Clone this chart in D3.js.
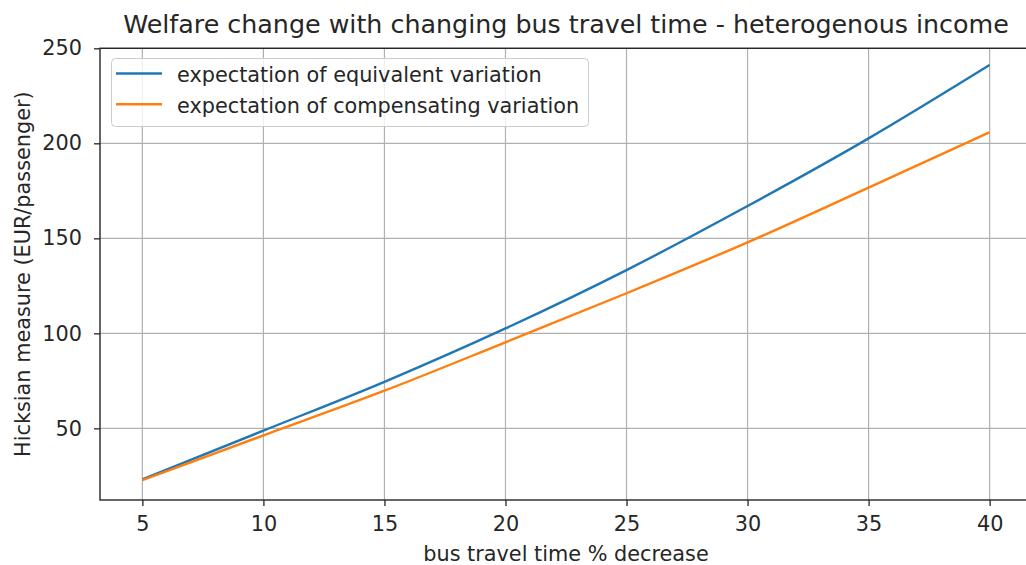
<!DOCTYPE html>
<html><head><meta charset="utf-8">
<script src="https://cdn.jsdelivr.net/npm/d3@7"></script>
<style>body{margin:0;background:#fff;} svg{display:block;} text{font-family:"DejaVu Sans",sans-serif;fill:#262626;}</style>
</head><body>
<script>
const xValues = [5, 10, 15, 20, 25, 30, 35, 40];
const equivalentVariation = [23.2, 48.8, 74.5, 102.6, 133.3, 167.0, 202.6, 241.2];
const compensatingVariation = [22.8, 46.3, 69.8, 95.3, 121.1, 147.9, 176.7, 205.8];
const xTicks = [5, 10, 15, 20, 25, 30, 35, 40];
const yTicks = [50, 100, 150, 200, 250];
const seriesNames = ["expectation of equivalent variation", "expectation of compensating variation"];
const colors = ["#1f77b4", "#ff7f0e"];

const W = 1026, H = 565;
const m = {left: 100, right: 1032, top: 48.3, bottom: 500};
const svg = d3.select("body").append("svg").attr("width", W).attr("height", H);

const x = d3.scaleLinear().domain([3.25, 41.75]).range([m.left, m.right]);
const y = d3.scaleLinear().domain([12.3, 250]).range([m.bottom, m.top]);

// grid
svg.append("g").selectAll("line").data(xTicks).join("line")
  .attr("x1", d => x(d)).attr("x2", d => x(d)).attr("y1", m.top).attr("y2", m.bottom)
  .attr("stroke", "#b0b0b0").attr("stroke-width", 1.2);
svg.append("g").selectAll("line").data(yTicks).join("line")
  .attr("y1", d => y(d)).attr("y2", d => y(d)).attr("x1", m.left).attr("x2", m.right)
  .attr("stroke", "#b0b0b0").attr("stroke-width", 1.2);

// lines
const series = [equivalentVariation, compensatingVariation];
const line = d3.line().x((d, i) => x(xValues[i])).y(d => y(d)).curve(d3.curveMonotoneX);
series.forEach((s, k) => {
  svg.append("path").datum(s).attr("d", line).attr("fill", "none")
    .attr("stroke", colors[k]).attr("stroke-width", 2.4);
});

// axes
const xAxis = svg.append("g").attr("transform", `translate(0,${m.bottom})`)
  .call(d3.axisBottom(x).tickValues(xTicks).tickSize(6).tickPadding(10));
const yAxis = svg.append("g").attr("transform", `translate(${m.left},0)`)
  .call(d3.axisLeft(y).tickValues(yTicks).tickSize(6).tickPadding(12));
[xAxis, yAxis].forEach(a => {
  a.selectAll("text").attr("font-size", 20.8).attr("fill", "#262626").attr("font-family", "DejaVu Sans");
  a.selectAll("line").attr("stroke", "#262626").attr("stroke-width", 1.3);
  a.select(".domain").remove();
});

// spines
svg.append("rect").attr("x", m.left).attr("y", m.top).attr("width", m.right - m.left).attr("height", m.bottom - m.top)
  .attr("fill", "none").attr("stroke", "#262626").attr("stroke-width", 1.4);

// title & labels
svg.append("text").attr("x", (m.left + m.right) / 2).attr("y", 33).attr("text-anchor", "middle")
  .attr("font-size", 25.35).text("Welfare change with changing bus travel time - heterogenous income");
svg.append("text").attr("x", (m.left + m.right) / 2).attr("y", 561).attr("text-anchor", "middle")
  .attr("font-size", 20.8).text("bus travel time % decrease");
svg.append("text").attr("transform", `translate(30,${(m.top + m.bottom) / 2}) rotate(-90)`).attr("text-anchor", "middle")
  .attr("font-size", 20.8).text("Hicksian measure (EUR/passenger)");

// legend
const lg = svg.append("g");
lg.append("rect").attr("x", 111.5).attr("y", 58.5).attr("width", 477).attr("height", 68).attr("rx", 4)
  .attr("fill", "#fff").attr("fill-opacity", 0.8).attr("stroke", "#cccccc").attr("stroke-width", 1);
seriesNames.forEach((n, k) => {
  const yy = 73.5 + k * 30.8;
  lg.append("line").attr("x1", 116).attr("x2", 162).attr("y1", yy).attr("y2", yy)
    .attr("stroke", colors[k]).attr("stroke-width", 2.4);
  lg.append("text").attr("x", 177).attr("y", yy + 8.5).attr("font-size", 20.8).text(n);
});
</script>
</body></html>
